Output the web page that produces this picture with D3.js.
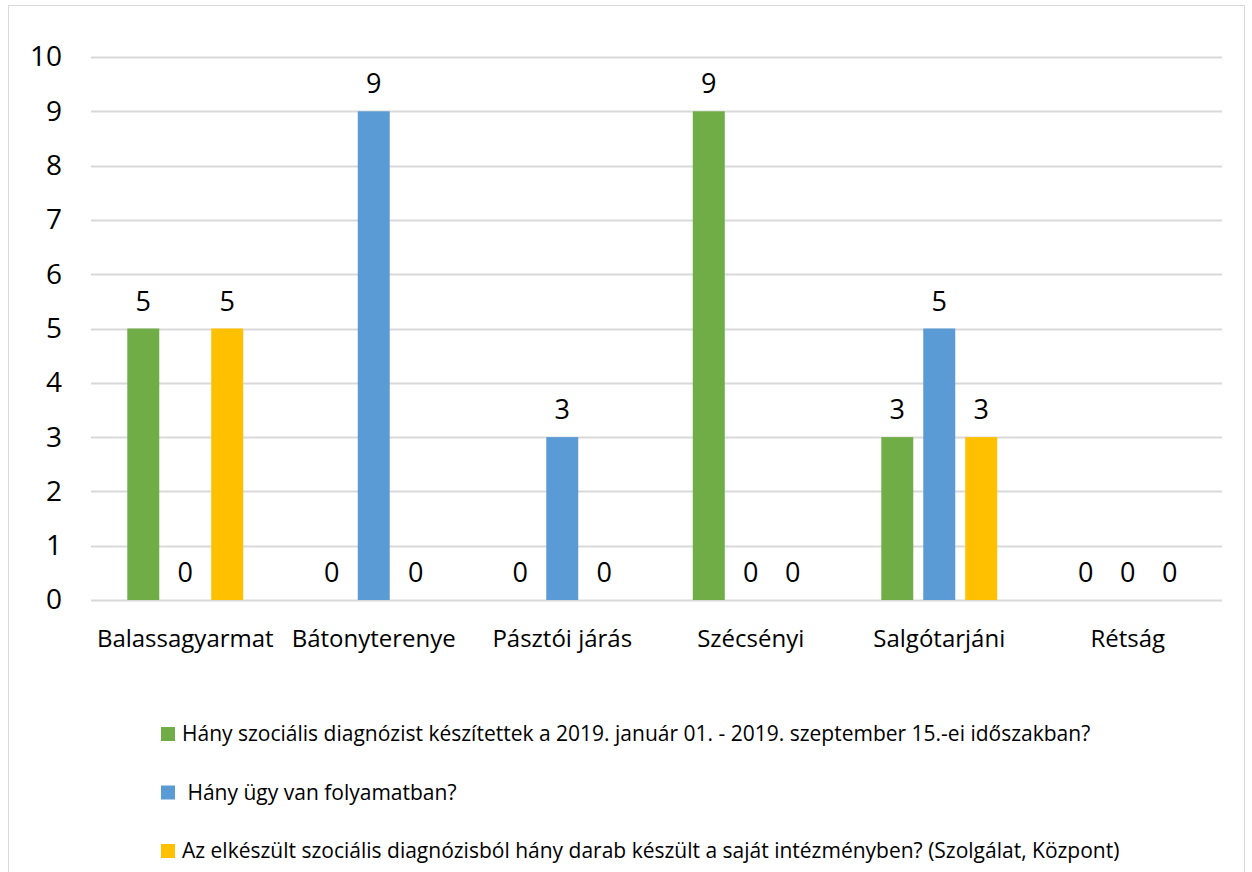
<!DOCTYPE html>
<html>
<head>
<meta charset="utf-8">
<script src="https://cdn.jsdelivr.net/npm/d3@7"></script>
<style>
  body { margin: 0; background: #fff; }
  svg { display: block; font-family: "Open Sans", sans-serif; }
</style>
</head>
<body>
<div id="chart"></div>
<script>
// data
const categories = ["Balassagyarmat", "Bátonyterenye", "Pásztói járás", "Szécsényi", "Salgótarjáni", "Rétság"];
const seriesNames = [
  "Hány szociális diagnózist készítettek a 2019. január 01. - 2019. szeptember 15.-ei időszakban?",
  " Hány ügy van folyamatban?",
  "Az elkészült szociális diagnózisból hány darab készült a saját intézményben? (Szolgálat, Központ)"
];
const diagnozisok = [5, 0, 0, 9, 3, 0];
const folyamatban = [0, 9, 3, 0, 5, 0];
const sajatIntezmeny = [5, 0, 0, 0, 3, 0];
const yTicks = [0, 1, 2, 3, 4, 5, 6, 7, 8, 9, 10];

const seriesValues = [diagnozisok, folyamatban, sajatIntezmeny];
const colors = ["#70AD47", "#5B9BD5", "#FFC000"];

const W = 1252, H = 872;
const plotL = 91, plotR = 1222, plotT = 57, plotB = 600;

const svg = d3.select("#chart").append("svg")
  .attr("width", W)
  .attr("height", H);

// outer frame
svg.append("rect")
  .attr("x", 8.5).attr("y", 5.5)
  .attr("width", 1236).attr("height", 880)
  .attr("fill", "#fff")
  .attr("stroke", "#D9D9D9");

// scales
const x0 = d3.scaleBand()
  .domain(categories)
  .range([plotL, plotR])
  .paddingInner(0.385)
  .paddingOuter(0.1925);
const x1 = d3.scaleBand()
  .domain(d3.range(3))
  .range([0, x0.bandwidth()])
  .paddingInner(0.238);
const y = d3.scaleLinear()
  .domain([0, 10])
  .range([plotB, plotT]);

// gridlines
svg.append("g")
  .selectAll("line")
  .data(yTicks)
  .join("line")
  .attr("x1", plotL).attr("x2", plotR)
  .attr("y1", d => Math.round(y(d)) + 0.5)
  .attr("y2", d => Math.round(y(d)) + 0.5)
  .attr("stroke", "#D9D9D9")
  .attr("stroke-width", 2);

// y axis labels
const yAxis = d3.axisLeft(y).tickValues(yTicks).tickSize(0).tickPadding(0);
const yG = svg.append("g")
  .attr("transform", "translate(62,0)")
  .call(yAxis);
yG.select(".domain").remove();
yG.selectAll("text")
  .attr("font-size", 28)
  .attr("font-family", "Open Sans, sans-serif")
  .attr("fill", "#000");

// x axis labels
const xAxis = d3.axisBottom(x0).tickSize(0).tickPadding(0);
const xG = svg.append("g")
  .attr("transform", "translate(0," + (plotB + 30) + ")")
  .call(xAxis);
xG.select(".domain").remove();
xG.selectAll("text")
  .attr("font-size", 24)
  .attr("font-family", "Open Sans, sans-serif")
  .attr("fill", "#000");

// bars
const rows = categories.map((c, i) => ({ cat: c, vals: seriesValues.map(s => s[i]) }));
const groups = svg.append("g")
  .selectAll("g")
  .data(rows)
  .join("g")
  .attr("transform", d => "translate(" + x0(d.cat) + ",0)");

groups.selectAll("rect")
  .data(d => d.vals.map((v, k) => ({ v, k })))
  .join("rect")
  .attr("x", d => x1(d.k))
  .attr("y", d => y(d.v))
  .attr("width", x1.bandwidth())
  .attr("height", d => y(0) - y(d.v))
  .attr("fill", d => colors[d.k]);

groups.selectAll("text")
  .data(d => d.vals.map((v, k) => ({ v, k })))
  .join("text")
  .attr("x", d => x1(d.k) + x1.bandwidth() / 2)
  .attr("y", d => y(d.v) - 18)
  .attr("text-anchor", "middle")
  .attr("font-size", 27)
  .attr("fill", "#000")
  .text(d => d.v);

// legend
const legend = svg.append("g")
  .selectAll("g")
  .data(seriesNames)
  .join("g")
  .attr("transform", (d, i) => "translate(161," + (727 + i * 58.5) + ")");
legend.append("rect")
  .attr("width", 14).attr("height", 14)
  .attr("fill", (d, i) => colors[i]);
legend.append("text")
  .attr("x", 21)
  .attr("y", 14)
  .attr("font-size", 21)
  .attr("fill", "#000")
  .style("white-space", "pre")
  .text(d => d);
</script>
</body>
</html>
